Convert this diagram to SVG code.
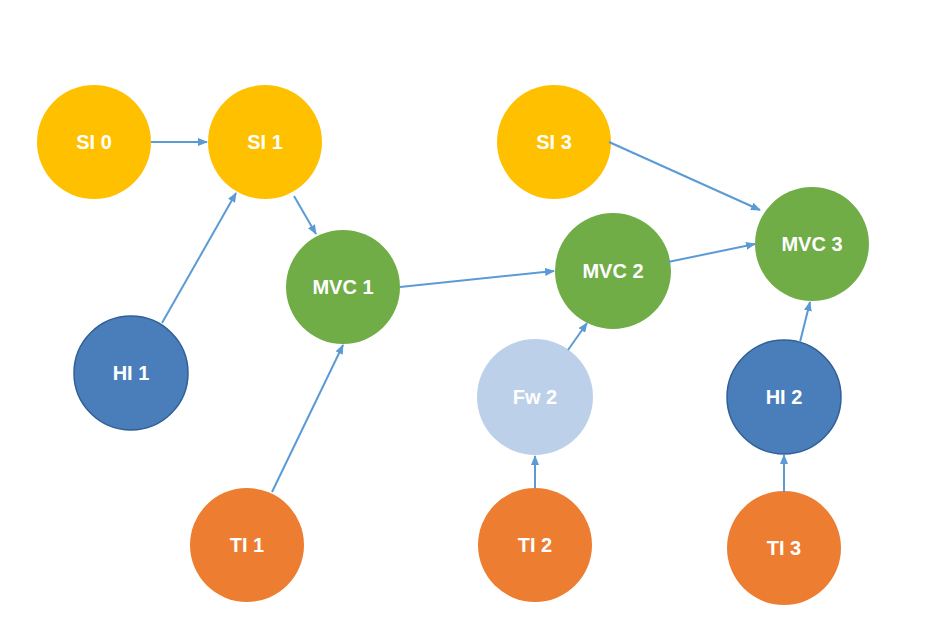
<svg xmlns="http://www.w3.org/2000/svg" width="937" height="618" viewBox="0 0 937 618">
<style>
text{font-family:"Liberation Sans",Arial,sans-serif;font-weight:bold;font-size:20px;fill:#fff;text-anchor:middle;dominant-baseline:central}
.y{fill:#FFC000}.g{fill:#70AD47}.b{fill:#4A7EBB;stroke:#2F5F95;stroke-width:1.5}.l{fill:#BDD0E9}.o{fill:#ED7D31}
.c line{stroke:#5B9BD5;stroke-width:2;marker-end:url(#a)}
</style>
<defs><marker id="a" markerWidth="10" markerHeight="8" refX="9" refY="4" orient="auto" markerUnits="userSpaceOnUse"><path d="M0,0L10,4L0,8z" fill="#5B9BD5"/></marker></defs>
<rect width="937" height="618" fill="#fff"/>
<g id="si0"><circle class="y" cx="94" cy="142" r="57"/><text x="94" y="142">SI 0</text></g>
<g id="si1"><circle class="y" cx="265" cy="142" r="57"/><text x="265" y="142">SI 1</text></g>
<g id="si3"><circle class="y" cx="554" cy="142" r="57"/><text x="554" y="142">SI 3</text></g>
<g id="mvc1"><circle class="g" cx="343" cy="287" r="57"/><text x="343" y="287">MVC 1</text></g>
<g id="mvc2"><circle class="g" cx="613" cy="271" r="58"/><text x="613" y="271">MVC 2</text></g>
<g id="mvc3"><circle class="g" cx="812" cy="244" r="57"/><text x="812" y="244">MVC 3</text></g>
<g id="hi1"><circle class="b" cx="131" cy="373" r="57"/><text x="131" y="373">HI 1</text></g>
<g id="fw2"><circle class="l" cx="535" cy="397" r="58"/><text x="535" y="397">Fw 2</text></g>
<g id="hi2"><circle class="b" cx="784" cy="397" r="57"/><text x="784" y="397">HI 2</text></g>
<g id="ti1"><circle class="o" cx="247" cy="545" r="57"/><text x="247" y="545">TI 1</text></g>
<g id="ti2"><circle class="o" cx="535" cy="545" r="57"/><text x="535" y="545">TI 2</text></g>
<g id="ti3"><circle class="o" cx="784" cy="548" r="57"/><text x="784" y="548">TI 3</text></g>
<g class="c" id="connectors">
<line x1="151" y1="142" x2="207" y2="142"/>
<line x1="162" y1="323" x2="236" y2="193"/>
<line x1="294" y1="196" x2="316" y2="234"/>
<line x1="272" y1="492" x2="343" y2="345"/>
<line x1="400" y1="287" x2="554" y2="271"/>
<line x1="568" y1="350" x2="587" y2="323"/>
<line x1="535" y1="488" x2="535" y2="456"/>
<line x1="668" y1="262" x2="755" y2="244"/>
<line x1="609" y1="142" x2="760" y2="210"/>
<line x1="800" y1="342" x2="810" y2="302"/>
<line x1="784" y1="492" x2="784" y2="455"/>
</g>
</svg>
